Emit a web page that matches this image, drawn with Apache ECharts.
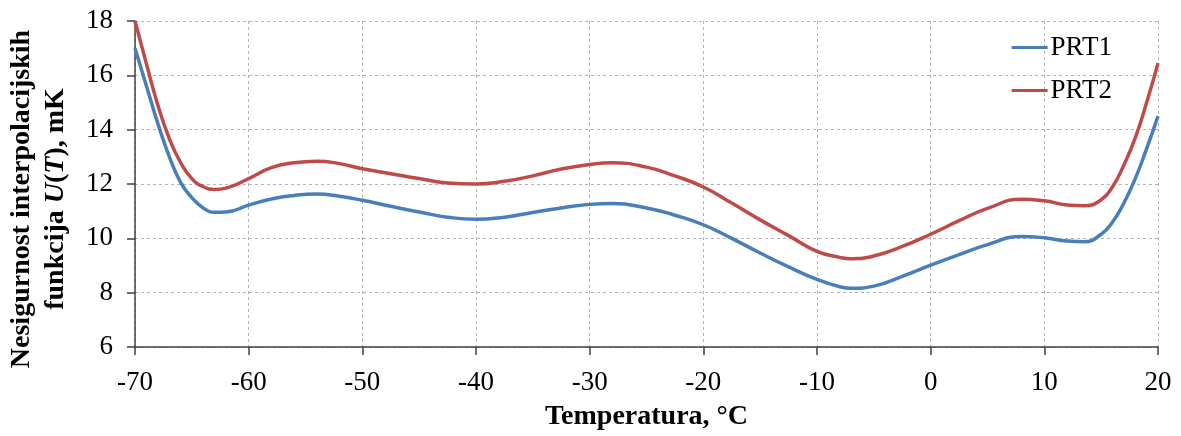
<!DOCTYPE html>
<html>
<head>
<meta charset="utf-8">
<script src="https://cdn.jsdelivr.net/npm/echarts@6/dist/echarts.min.js"></script>
<style>
  html, body { margin: 0; padding: 0; background: #fff; }
  #chart { width: 1181px; height: 436px; }
</style>
</head>
<body>
<div id="chart"></div>
<script>
var temps = [-70, -69, -68, -67, -66, -65, -64, -63, -62, -60, -58, -56, -54, -52, -50, -47.5, -45, -42.5, -40, -37.5, -35, -32.5, -30, -28, -25, -22.5, -20, -17.5, -15, -12.5, -10, -8, -7, -5, -2.5, 0, 2.5, 5, 8, 10, 12, 13.5, 15, 16, 17, 18, 19, 20];
var prt1 = [17.0, 15.62, 14.24, 13.03, 12.07, 11.5, 11.12, 10.96, 10.97, 11.22, 11.45, 11.58, 11.63, 11.55, 11.40, 11.18, 10.97, 10.78, 10.70, 10.78, 10.95, 11.12, 11.25, 11.28, 11.12, 10.85, 10.5, 10.0, 9.46, 8.95, 8.49, 8.22, 8.16, 8.24, 8.6, 9.01, 9.4, 9.77, 10.07, 10.02, 9.9, 9.87, 10.15, 10.6, 11.3, 12.2, 13.3, 14.5];
var prt2 = [18.0, 16.43, 14.92, 13.69, 12.8, 12.2, 11.9, 11.8, 11.85, 12.2, 12.6, 12.78, 12.84, 12.75, 12.56, 12.38, 12.2, 12.04, 12.0, 12.1, 12.3, 12.55, 12.72, 12.78, 12.62, 12.3, 11.89, 11.3, 10.68, 10.1, 9.52, 9.3, 9.25, 9.35, 9.7, 10.15, 10.65, 11.1, 11.44, 11.38, 11.23, 11.2, 11.42, 11.9, 12.7, 13.7, 15.0, 16.45];
var seriesNames = ['PRT1', 'PRT2'];

var chart = echarts.init(document.getElementById('chart'));
var serif = '"Liberation Serif", "Times New Roman", serif';

function pairs(vals) {
    return temps.map(function (t, i) { return [t, vals[i]]; });
}

var option = {
    animation: false,
    backgroundColor: '#fff',
    grid: { left: 135, right: 23, top: 21, bottom: 86 },
    legend: {
        orient: 'vertical',
        right: 64,
        top: 29,
        itemWidth: 36,
        itemHeight: 3,
        itemGap: 16,
        icon: 'rect',
        textStyle: { fontFamily: serif, fontSize: 27, color: '#000', lineHeight: 27, padding: [0, 0, 0, -2] },
        data: seriesNames
    },
    xAxis: {
        type: 'value',
        min: -70,
        max: 20,
        interval: 10,
        name: 'Temperatura, °C',
        nameLocation: 'middle',
        nameGap: 56,
        nameTextStyle: { fontFamily: serif, fontSize: 28, fontWeight: 'bold', color: '#000' },
        axisLine: { onZero: false, lineStyle: { color: '#404040', width: 1.5 } },
        axisTick: { show: true, length: 8, lineStyle: { color: '#404040', width: 1.5 } },
        axisLabel: { fontFamily: serif, fontSize: 27, color: '#000', margin: 22 },
        splitLine: { show: true, lineStyle: { color: '#b4b4b4', type: [3, 3], width: 1 } }
    },
    yAxis: {
        type: 'value',
        min: 6,
        max: 18,
        interval: 2,
        name: '{b|Nesigurnost interpolacijskih}\n{b|funkcija }{i|U}{b|(}{i|T}{b|), mK}',
        nameLocation: 'middle',
        nameRotate: 90,
        nameGap: 62,
        nameTextStyle: {
            padding: [0, 30, 0, 0],
            rich: {
                b: { fontFamily: serif, fontSize: 28, fontWeight: 'bold', color: '#000', lineHeight: 34 },
                i: { fontFamily: serif, fontSize: 28, fontWeight: 'bold', fontStyle: 'italic', color: '#000', lineHeight: 34 }
            }
        },
        axisLine: { show: true, onZero: false, lineStyle: { color: '#404040', width: 1.5 } },
        axisTick: { show: true, length: 8, lineStyle: { color: '#404040', width: 1.5 } },
        axisLabel: { fontFamily: serif, fontSize: 27, color: '#000', margin: 22 },
        splitLine: { show: true, lineStyle: { color: '#b4b4b4', type: [3, 3], width: 1 } }
    },
    series: [
        {
            name: seriesNames[0],
            type: 'line',
            smooth: 0.5,
            showSymbol: false,
            data: pairs(prt1),
            itemStyle: { color: '#4a7ebb' },
            lineStyle: { color: '#4a7ebb', width: 3.5 },
            z: 3
        },
        {
            name: seriesNames[1],
            type: 'line',
            smooth: 0.5,
            showSymbol: false,
            data: pairs(prt2),
            itemStyle: { color: '#be4b48' },
            lineStyle: { color: '#be4b48', width: 3.5 },
            z: 2
        }
    ]
};

chart.setOption(option);
</script>
</body>
</html>
